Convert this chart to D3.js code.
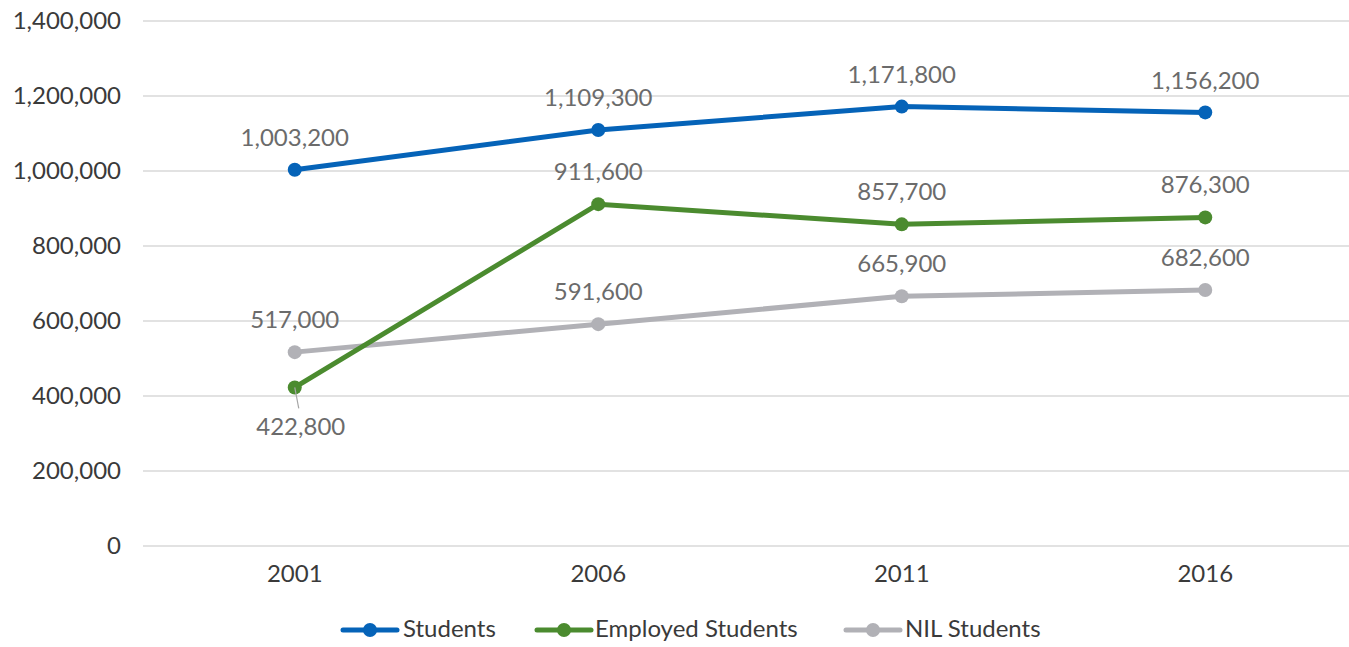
<!DOCTYPE html>
<html>
<head>
<meta charset="utf-8">
<script src="https://cdn.jsdelivr.net/npm/d3@7"></script>
<style>
  html, body { margin: 0; padding: 0; background: #fff; }
  svg text { font-family: Lato, "Noto Sans", sans-serif; }
</style>
</head>
<body>
<svg id="chart" width="1349" height="647"></svg>
<script>
// Census years and series values
const years = ["2001", "2006", "2011", "2016"];
const students = [1003200, 1109300, 1171800, 1156200];
const employedStudents = [422800, 911600, 857700, 876300];
const nilStudents = [517000, 591600, 665900, 682600];
const yTicks = [0, 200000, 400000, 600000, 800000, 1000000, 1200000, 1400000];

const series = [
  { name: "Students", values: students, color: "#0563b8" },
  { name: "Employed Students", values: employedStudents, color: "#4b8b2f" },
  { name: "NIL Students", values: nilStudents, color: "#b1b1b6" }
];

const svg = d3.select("#chart");
const plotLeft = 143, plotRight = 1357, plotTop = 21, plotBottom = 546;
const fontSize = 24;

const x = d3.scaleBand().domain(years).range([plotLeft, plotRight]);
const cx = d => x(d) + x.bandwidth() / 2;
const y = d3.scaleLinear().domain([0, 1400000]).range([plotBottom, plotTop]);
const fmt = d3.format(",");

// horizontal gridlines
svg.append("g").selectAll("line").data(yTicks).join("line")
  .attr("x1", plotLeft).attr("x2", 1349)
  .attr("y1", d => y(d)).attr("y2", d => y(d))
  .attr("stroke", "#d9d9d9").attr("stroke-width", 1.5);

// y-axis labels
const yAxis = svg.append("g")
  .attr("transform", `translate(${plotLeft - 22},0)`)
  .call(d3.axisLeft(y).tickValues(yTicks).tickFormat(fmt).tickSize(0).tickPadding(0));
yAxis.select(".domain").remove();
yAxis.selectAll("text").attr("font-size", fontSize).attr("fill", "#3a3a3a")
  .attr("font-family", "Lato, 'Noto Sans', sans-serif");

// x-axis labels
const xAxis = svg.append("g")
  .attr("transform", `translate(0,${plotBottom + 19})`)
  .call(d3.axisBottom(x).tickSize(0).tickPadding(0));
xAxis.select(".domain").remove();
xAxis.selectAll("text").attr("font-size", fontSize).attr("fill", "#3a3a3a")
  .attr("dy", "0.71em")
  .attr("font-family", "Lato, 'Noto Sans', sans-serif");

const line = d3.line().x((d, i) => cx(years[i])).y(d => y(d));

// lines and markers, drawn bottom series first
[...series].reverse().forEach(s => {
  svg.append("path").datum(s.values)
    .attr("d", line).attr("fill", "none")
    .attr("stroke", s.color).attr("stroke-width", 5)
    .attr("stroke-linejoin", "round");
  svg.append("g").selectAll("circle").data(s.values).join("circle")
    .attr("cx", (d, i) => cx(years[i])).attr("cy", d => y(d))
    .attr("r", 7).attr("fill", s.color);
});

// data labels: above each point, except 2001 employed students which sits below with a leader
series.forEach(s => {
  s.values.forEach((v, i) => {
    const below = s.name === "Employed Students" && i === 0;
    const px = cx(years[i]), py = y(v);
    if (below) {
      svg.append("line")
        .attr("x1", px).attr("y1", py)
        .attr("x2", px + 4).attr("y2", py + 21)
        .attr("stroke", "#a6a6a6").attr("stroke-width", 1.2);
    }
    svg.append("text")
      .attr("x", px + (below ? 6 : 0))
      .attr("y", below ? py + 41 : py - 30)
      .attr("text-anchor", "middle")
      .attr("dominant-baseline", "middle")
      .attr("font-size", fontSize)
      .attr("fill", "#6b6b6b")
      .text(fmt(v));
  });
});

// legend
const legendItems = [
  { x: 343, tx: 403 },
  { x: 537, tx: 595 },
  { x: 846, tx: 905 }
];
const ly = 630;
series.forEach((s, i) => {
  const g = svg.append("g");
  const L = legendItems[i];
  g.append("line").attr("x1", L.x).attr("x2", L.x + 54)
    .attr("y1", ly).attr("y2", ly)
    .attr("stroke", s.color).attr("stroke-width", 5).attr("stroke-linecap", "round");
  g.append("circle").attr("cx", L.x + 27).attr("cy", ly).attr("r", 7).attr("fill", s.color);
  g.append("text").attr("x", L.tx).attr("y", ly + 1)
    .attr("dominant-baseline", "middle")
    .attr("font-size", fontSize).attr("fill", "#3a3a3a")
    .text(s.name);
});
</script>
</body>
</html>
